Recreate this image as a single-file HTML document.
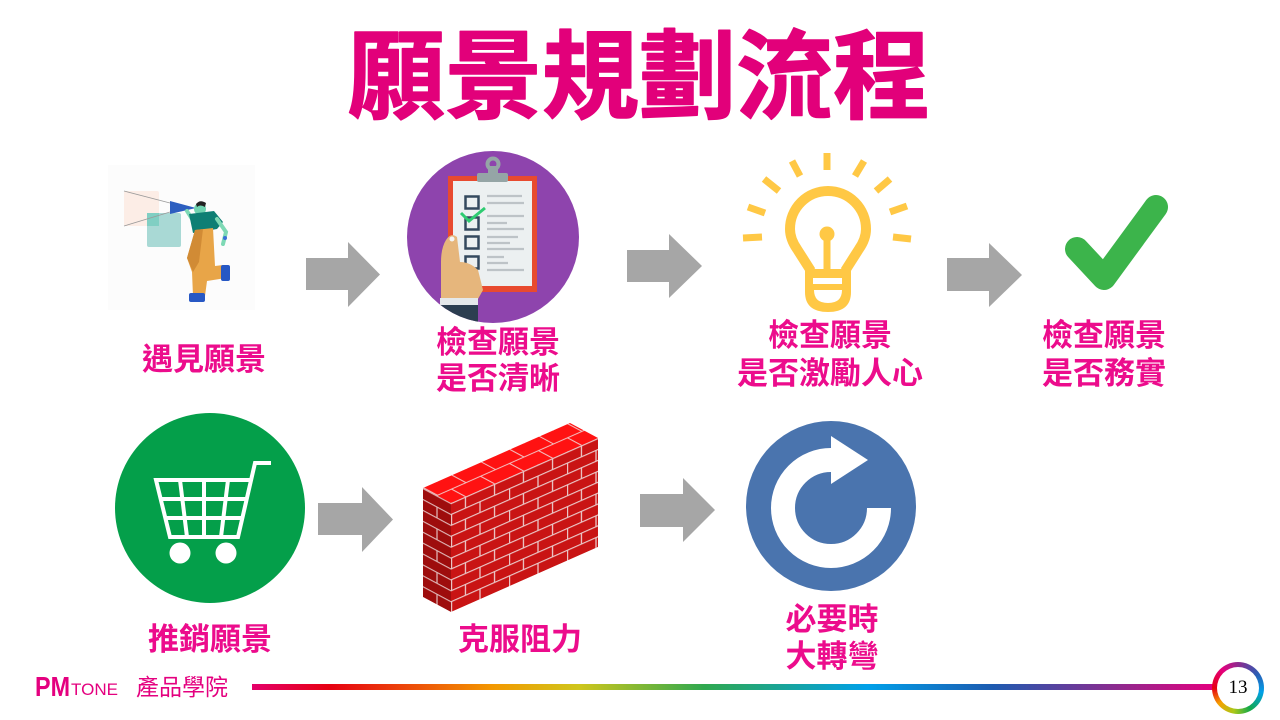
<!DOCTYPE html>
<html>
<head>
<meta charset="utf-8">
<style>
  html,body{margin:0;padding:0;background:#fff;}
  body{width:1280px;height:720px;position:relative;overflow:hidden;
       font-family:"Liberation Sans","Noto Sans CJK TC",sans-serif;}
  svg{position:absolute;left:0;top:0;}
  .ring{position:absolute;left:1212px;top:662px;width:52px;height:52px;border-radius:50%;
        background:conic-gradient(#8E2A8E 0deg,#2A5DB5 55deg,#00A0E9 100deg,#12A84A 150deg,#A8C81A 190deg,#F5A100 230deg,#E60012 270deg,#E4007F 320deg,#8E2A8E 360deg);}
  .ring .in{position:absolute;left:5px;top:5px;width:42px;height:42px;border-radius:50%;background:#fff;
        font-family:"Liberation Serif",serif;font-size:19px;color:#000;text-align:center;line-height:42px;}
</style>
</head>
<body>
<svg width="1280" height="720" viewBox="0 0 1280 720" xmlns="http://www.w3.org/2000/svg">
  <defs>
    <linearGradient id="rain" x1="252" y1="0" x2="1214" y2="0" gradientUnits="userSpaceOnUse">
      <stop offset="0" stop-color="#E4006A"/>
      <stop offset="0.08" stop-color="#E60012"/>
      <stop offset="0.25" stop-color="#F39800"/>
      <stop offset="0.34" stop-color="#CFC61C"/>
      <stop offset="0.47" stop-color="#2FA84F"/>
      <stop offset="0.64" stop-color="#00A0E9"/>
      <stop offset="0.77" stop-color="#1D5BB0"/>
      <stop offset="0.90" stop-color="#8E2A8E"/>
      <stop offset="1" stop-color="#E4007F"/>
    </linearGradient>
    <pattern id="brickFront" patternUnits="userSpaceOnUse" width="58" height="21.8">
      <rect width="58" height="21.8" fill="#C91414"/>
      <g stroke="#EBC9C9" stroke-width="1.3">
        <line x1="0" y1="0.6" x2="58" y2="0.6"/>
        <line x1="0" y1="11.5" x2="58" y2="11.5"/>
        <line x1="14.5" y1="0" x2="14.5" y2="10.9"/>
        <line x1="43.5" y1="0" x2="43.5" y2="10.9"/>
        <line x1="29" y1="10.9" x2="29" y2="21.8"/>
        <line x1="0.5" y1="10.9" x2="0.5" y2="21.8"/>
      </g>
    </pattern>
    <pattern id="brickTop" patternUnits="userSpaceOnUse" width="58" height="28">
      <rect width="58" height="28" fill="#FF1212"/>
      <g stroke="#F2C4C4" stroke-width="1.2">
        <line x1="0" y1="14" x2="58" y2="14"/>
        <line x1="0.5" y1="0" x2="0.5" y2="14"/>
        <line x1="29" y1="0" x2="29" y2="14"/>
        <line x1="14.5" y1="14" x2="14.5" y2="28"/>
        <line x1="43.5" y1="14" x2="43.5" y2="28"/>
      </g>
    </pattern>
    <pattern id="brickSide" patternUnits="userSpaceOnUse" width="28" height="21.8">
      <rect width="28" height="21.8" fill="#9E0D0D"/>
      <g stroke="#E0B8B8" stroke-width="1.2">
        <line x1="0" y1="0.6" x2="28" y2="0.6"/>
        <line x1="0" y1="11.5" x2="28" y2="11.5"/>
        <line x1="14" y1="10.9" x2="14" y2="21.8"/>
      </g>
    </pattern>
    <clipPath id="purpleClip"><circle cx="493" cy="237" r="86"/></clipPath>
  </defs>

  <!-- Title -->
  <text x="639" y="111" text-anchor="middle" font-size="97" font-weight="bold" fill="#E2007A" stroke="#E2007A" stroke-width="1.5" stroke-linejoin="round" font-family="'Liberation Sans','Noto Sans CJK TC',sans-serif">願景規劃流程</text>

  <!-- ===== Icon 1: person with megaphone ===== -->
  <rect x="108" y="165" width="147" height="145" fill="#FCFCFC"/>
  <rect x="124" y="191" width="35" height="35" rx="2" fill="#FCEDE6"/>
  <rect x="147" y="213" width="34" height="34" rx="2" fill="#A9D9D5"/>
  <rect x="147" y="213" width="12" height="13" fill="#80CFC3"/>
  <line x1="124" y1="191" x2="170" y2="203" stroke="#9A9A9A" stroke-width="0.8"/>
  <line x1="124" y1="226" x2="170" y2="212" stroke="#9A9A9A" stroke-width="0.8"/>
  <polygon points="170,201 170,214 196,208" fill="#2D5FC0"/>
  <circle cx="200" cy="209" r="6" fill="#6FD3B0"/>
  <path d="M196 204 Q200 199 206 203 L205 207 Q200 204 197 207 Z" fill="#222"/>
  <path d="M192 219 L187 211" stroke="#7ED9B5" stroke-width="4" stroke-linecap="round"/>
  <polygon points="189,214 214,211 223,222 217,229 193,233" fill="#0E7F74"/>
  <path d="M217 219 L226 232 L223 244" stroke="#7ED9B5" stroke-width="4" fill="none" stroke-linecap="round"/>
  <circle cx="225" cy="238" r="2" fill="#3A6FD8"/>
  <path d="M195 230 L213 228 L215 266 L223 265 L226 278 L207 281 L205 296 L193 296 L192 272 L187 258 Z" fill="#E8A548"/>
  <path d="M195 230 L203 229 L199 262 L193 272 L187 258 Z" fill="#D18B35"/>
  <rect x="189" y="293" width="16" height="9" rx="2" fill="#2758C4"/>
  <rect x="221" y="265" width="9" height="16" rx="2" fill="#2758C4"/>

  <!-- Arrow 1 -->
  <polygon points="306,258 348,258 348,242 380,274.5 348,307 348,290 306,290" fill="#A6A6A6"/>

  <!-- ===== Icon 2: clipboard ===== -->
  <circle cx="493" cy="237" r="86" fill="#8E44AD"/>
  <rect x="448" y="176" width="89" height="116" fill="#E84A2F"/>
  <rect x="453" y="181" width="79" height="105" fill="#ECF0F1"/>
  <circle cx="493" cy="164" r="5.5" fill="none" stroke="#95A5A6" stroke-width="4"/>
  <rect x="488" y="166" width="10" height="9" fill="#95A5A6"/>
  <rect x="477" y="173" width="31" height="9" rx="2" fill="#95A5A6"/>
  <g fill="none" stroke="#34495E" stroke-width="2.5">
    <rect x="465.5" y="196.5" width="13" height="12"/>
    <rect x="465.5" y="217.5" width="13" height="12"/>
    <rect x="465.5" y="236.5" width="13" height="12"/>
    <rect x="465.5" y="256.5" width="13" height="12"/>
  </g>
  <g stroke="#BDC3C7" stroke-width="2.2">
    <line x1="487" y1="196" x2="522" y2="196"/>
    <line x1="487" y1="203" x2="524" y2="203"/>
    <line x1="487" y1="216" x2="524" y2="216"/>
    <line x1="487" y1="223" x2="507" y2="223"/>
    <line x1="487" y1="229" x2="524" y2="229"/>
    <line x1="487" y1="237" x2="518" y2="237"/>
    <line x1="487" y1="243" x2="510" y2="243"/>
    <line x1="487" y1="249" x2="524" y2="249"/>
    <line x1="487" y1="257" x2="504" y2="257"/>
    <line x1="487" y1="263" x2="508" y2="263"/>
    <line x1="487" y1="270" x2="524" y2="270"/>
  </g>
  <polyline points="461,213 469,221 485,208" fill="none" stroke="#2ECC71" stroke-width="3"/>
  <g clip-path="url(#purpleClip)">
    <path d="M441 300 L441 262 Q441 248 446 240 Q451 232 457 237 L460 262 Q470 262 478 270 L483 290 L478 299 Z" fill="#E6B67C"/>
    <circle cx="452" cy="239" r="2.5" fill="#F4F4F4"/>
    <rect x="440" y="298" width="38" height="7" fill="#E4E8EA"/>
    <rect x="440" y="305" width="38" height="22" fill="#2C3E50"/>
  </g>

  <!-- Arrow 2 -->
  <polygon points="627,250 669,250 669,234 702,266 669,298 669,282 627,282" fill="#A6A6A6"/>

  <!-- ===== Icon 3: light bulb ===== -->
  <g stroke="#FFC845" stroke-width="7" stroke-linecap="butt">
    <line x1="827" y1="153" x2="827" y2="170"/>
    <line x1="792" y1="161" x2="800" y2="176"/>
    <line x1="864" y1="161" x2="855" y2="176"/>
    <line x1="764" y1="179" x2="779" y2="191"/>
    <line x1="890" y1="179" x2="876" y2="191"/>
    <line x1="748" y1="207" x2="765" y2="213"/>
    <line x1="907" y1="206" x2="890" y2="212"/>
    <line x1="743" y1="238" x2="762" y2="237"/>
    <line x1="893" y1="237" x2="911" y2="239"/>
  </g>
  <path d="M811 271 L797 249 Q790 239 790 229 A38 38 0 1 1 866 229 Q866 239 859 249 L845 271" fill="none" stroke="#FFC845" stroke-width="10" stroke-linejoin="round"/>
  <line x1="827" y1="234" x2="827" y2="272" stroke="#FFC845" stroke-width="7"/>
  <circle cx="827" cy="234" r="7.5" fill="#FFC845"/>
  <path d="M805 269 H851 V292 Q851 312 828 312 Q805 312 805 292 Z" fill="#FFC845"/>
  <rect x="813" y="278" width="29" height="6" fill="#fff"/>
  <path d="M814 290 H842 Q842 303 828 303 Q814 303 814 290 Z" fill="#fff"/>

  <!-- Arrow 3 -->
  <polygon points="947,258 989,258 989,243 1022,275 989,307 989,291 947,291" fill="#A6A6A6"/>

  <!-- ===== Icon 4: check mark ===== -->
  <polyline points="1077,249 1104,278 1156,207" fill="none" stroke="#3CB44B" stroke-width="24" stroke-linecap="round" stroke-linejoin="round"/>

  <!-- ===== Labels ===== -->
  <g font-size="31" font-weight="bold" fill="#EC0C8C" text-anchor="middle" font-family="'Liberation Sans','Noto Sans CJK TC',sans-serif">
    <text x="204" y="370">遇見願景</text>
    <text x="498" y="353">檢查願景</text>
    <text x="498" y="389">是否清晰</text>
    <text x="830" y="346">檢查願景</text>
    <text x="830" y="384">是否激勵人心</text>
    <text x="1104" y="346">檢查願景</text>
    <text x="1104" y="384">是否務實</text>
    <text x="210" y="650">推銷願景</text>
    <text x="520" y="650">克服阻力</text>
    <text x="832" y="630">必要時</text>
    <text x="832" y="667">大轉彎</text>
  </g>

  <!-- ===== Icon 5: shopping cart ===== -->
  <circle cx="210" cy="508" r="95" fill="#049F4A"/>
  <g fill="none" stroke="#fff" stroke-width="4" stroke-linejoin="miter">
    <polyline points="271,463 255,463 238,537 170,537 156,480 251,480"/>
    <line x1="160" y1="499" x2="246" y2="499"/>
    <line x1="165" y1="518" x2="242" y2="518"/>
    <line x1="180" y1="480" x2="187" y2="537"/>
    <line x1="204" y1="480" x2="204" y2="537"/>
    <line x1="228" y1="480" x2="221" y2="537"/>
  </g>
  <circle cx="180" cy="553" r="10.5" fill="#fff"/>
  <circle cx="226" cy="553" r="10.5" fill="#fff"/>

  <!-- Arrow 4 -->
  <polygon points="318,503 362,503 362,487 393,519.5 362,552 362,535 318,535" fill="#A6A6A6"/>

  <!-- ===== Icon 6: brick wall ===== -->
  <g transform="matrix(1,-0.4422,0,1,451,503)">
    <rect x="0" y="0" width="147" height="109" fill="url(#brickFront)"/>
  </g>
  <g transform="matrix(1,0.536,0,1,423,488)">
    <rect x="0" y="0" width="28" height="109" fill="url(#brickSide)"/>
  </g>
  <g transform="matrix(1,-0.4422,1,0.536,423,488)">
    <rect x="0" y="0" width="147" height="28" fill="url(#brickTop)"/>
  </g>

  <!-- Arrow 5 -->
  <polygon points="640,494 683,494 683,478 715,510 683,542 683,527 640,527" fill="#A6A6A6"/>

  <!-- ===== Icon 7: refresh ===== -->
  <circle cx="831" cy="506" r="85" fill="#4A74AE"/>
  <path d="M879 508 A48 48 0 1 1 831 460" fill="none" stroke="#fff" stroke-width="24"/>
  <polygon points="831,436 831,484 868,460" fill="#fff"/>

  <!-- ===== Footer ===== -->
  <text x="35" y="696" font-size="28" font-weight="bold" fill="#E4007F" textLength="35" lengthAdjust="spacingAndGlyphs" font-family="'Liberation Sans',sans-serif">PM</text>
  <text x="71" y="695" font-size="17" fill="#E4007F" textLength="47" lengthAdjust="spacingAndGlyphs" font-family="'Liberation Sans',sans-serif">TONE</text>
  <text x="182" y="695" font-size="23" fill="#E4007F" text-anchor="middle" font-family="'Liberation Sans','Noto Sans CJK TC',sans-serif">產品學院</text>
  <rect x="252" y="684" width="962" height="6" fill="url(#rain)"/>
</svg>
<div class="ring"><div class="in">13</div></div>
</body>
</html>
